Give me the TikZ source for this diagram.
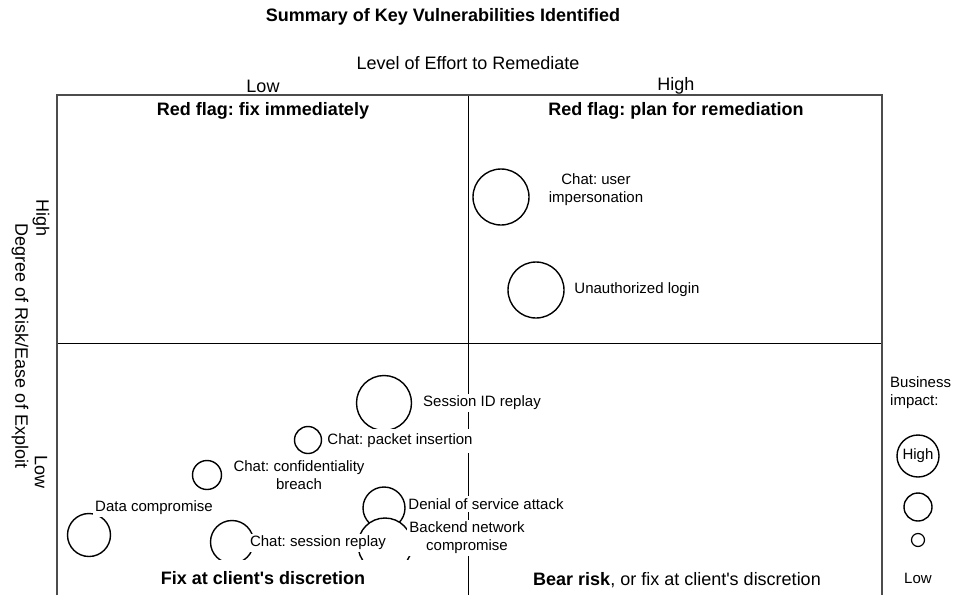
\documentclass[tikz,border=0pt]{standalone}
\usepackage{fontspec}
\setmainfont{Liberation Sans}[Ligatures=TeXOff]
\newcommand\szS{\fontsize{15}{18}\selectfont}
\newcommand\szL{\fontsize{18}{21}\selectfont}
\frenchspacing
\begin{document}
\begin{tikzpicture}[x=1pt,y=-1pt,
  frameline/.style={draw=black!70, line width=1.8pt},
  midline/.style={draw=black, line width=0.9pt},
  vuln/.style={circle, draw=black, line width=1.4pt, fill=white, inner sep=0pt},
  lbl/.style={font=\szS, fill=white, inner sep=2.5pt, align=center},
  head/.style={font=\szL\bfseries, inner sep=2pt},
  axislbl/.style={font=\szL, inner sep=1pt}]
\useasboundingbox (0,0) rectangle (962,595);
% frame and quadrant lines
\coordinate (tl) at (57,95);
\coordinate (tr) at (882,95);
\coordinate (bl) at (57,595);
\coordinate (br) at (882,595);
\coordinate (mt) at (468,95);
\coordinate (mb) at (468,595);
\coordinate (ml) at (57,343);
\coordinate (mr) at (882,343);
\draw[midline] (mt) -- (mb);
\draw[midline] (ml) -- (mr);
\draw[frameline] (bl) -- (tl) -- (tr) -- (br);
% titles and axes
\node[font=\szL\bfseries] (title) at (443,17) {Summary of Key Vulnerabilities Identified};
\node[axislbl] (effort) at (468,63) {Level of Effort to Remediate};
\node[axislbl] (xlow) at (263,86) {Low};
\node[axislbl] (xhigh) at (676,86) {High};
\node[axislbl, rotate=-90] (ylabel) at (20,346) {Degree of Risk/Ease of Exploit};
\node[axislbl, rotate=-90] (yhigh) at (41,218) {High};
\node[axislbl, rotate=-90] (ylow) at (41,472) {Low};
% quadrant headings
\node[head] (rf1) at (263,111) {Red flag: fix immediately};
\node[head] (rf2) at (676,111) {Red flag: plan for remediation};
% vulnerabilities
\node[vuln, minimum size=56] (c1) at (501,197) {};
\node[lbl] (l1) at (596,190) {Chat: user\\impersonation};
\node[vuln, minimum size=56] (c2) at (536,290) {};
\node[lbl] (l2) at (637,290) {Unauthorized login};
\node[vuln, minimum size=55] (c3) at (384,403) {};
\node[lbl] (l3) at (482,403) {Session ID replay};
\node[vuln, minimum size=27] (c4) at (308,440) {};
\node[lbl, inner ysep=5pt] (l4) at (400,441) {Chat: packet insertion};
\node[vuln, minimum size=29] (c5) at (207,475) {};
\node[lbl] (l5) at (299,475) {Chat: confidentiality\\breach};
\node[vuln, minimum size=43] (c6) at (89,535) {};
\node[lbl] (l6) at (154,508) {Data compromise};
\node[vuln, minimum size=43] (c7) at (232,542) {};
\node[vuln, minimum size=42] (c8) at (384,508) {};
\node[lbl] (l8) at (486,504) {Denial of service attack};
\node[vuln, minimum size=54] (c9) at (385,545) {};
\node[lbl] (l9) at (467,538) {Backend network\\compromise};
\node[lbl] (l7) at (318,543) {Chat: session replay};
% bottom labels
\node[fill=white, minimum width=409, minimum height=36, inner sep=0pt] (fixbox) at (262.5,578) {};
\node[head] (fix) at (263,578) {Fix at client's discretion};
\node[font=\szL] (bear) at (677,580) {\textbf{Bear risk}, or fix at client's discretion};
% legend
\node[font=\szS, align=left, anchor=north west, inner sep=0pt] (biz) at (890,376) {Business\\impact:};
\node[vuln, minimum size=42, font=\szS] (lg1) at (918,456) {High};
\node[vuln, minimum size=28] (lg2) at (918,507) {};
\node[vuln, minimum size=13, line width=1.2pt] (lg3) at (918,540) {};
\node[font=\szS] (lglow) at (918,578) {Low};
\end{tikzpicture}
\end{document}
